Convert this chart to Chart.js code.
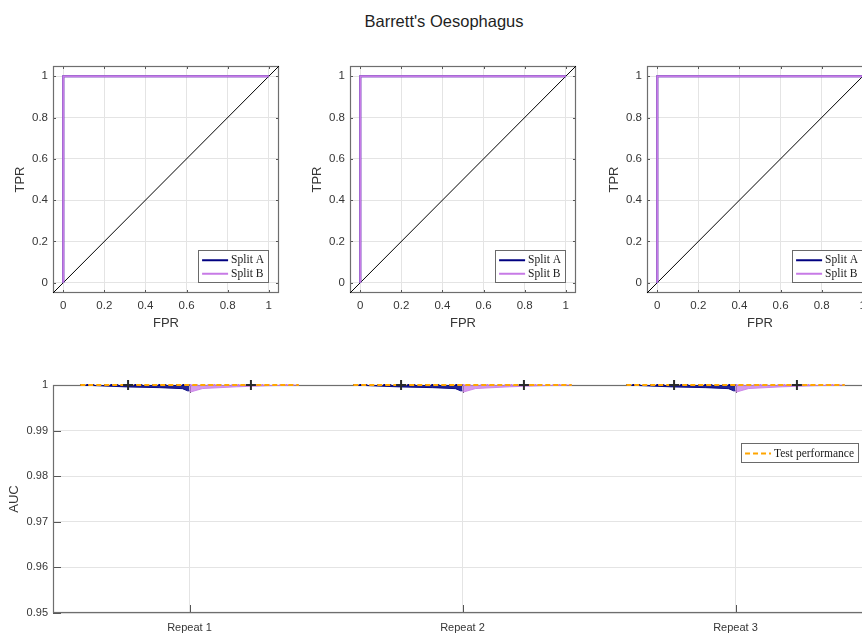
<!DOCTYPE html>
<html><head><meta charset="utf-8">
<script src="https://cdn.jsdelivr.net/npm/chart.js@4.4.1/dist/chart.umd.min.js"></script>
<style>
html,body{margin:0;padding:0;background:#fff;}
#fig{position:relative;width:862px;height:637px;overflow:hidden;background:#fff;}
#fig canvas{position:absolute;}
#title{position:absolute;left:0;top:11px;width:888px;text-align:center;font:16.5px "Liberation Sans",Arial,sans-serif;color:#1f1f1f;line-height:20px;white-space:nowrap;}
</style></head><body>
<div id="fig">
<div id="title">Barrett's Oesophagus</div>
<canvas id="roc1" width="300" height="300" style="left:0px;top:50px"></canvas>
<canvas id="roc2" width="300" height="300" style="left:297px;top:50px"></canvas>
<canvas id="roc3" width="300" height="300" style="left:594px;top:50px"></canvas>
<canvas id="auc" width="900" height="277" style="left:0px;top:360px"></canvas>
</div>
<script>
// ---------------- data ----------------
const splitNames = ['Split A', 'Split B'];
const rocFPR_A = [0, 0, 1];
const rocTPR_A = [0, 1, 1];
const rocFPR_B = [0, 0, 1];
const rocTPR_B = [0, 1, 1];
const chanceFPR = [-0.05, 1.05];
const chanceTPR = [-0.05, 1.05];
const rocTicks = [0, 0.2, 0.4, 0.6, 0.8, 1];
const rocTickLabels = ['0', '0.2', '0.4', '0.6', '0.8', '1'];

const repeats = ['Repeat 1', 'Repeat 2', 'Repeat 3'];
const repeatPos = [1, 2, 3];
const testAUC = [1, 1, 1];
const splitA_meanAUC = [1, 1, 1];
const splitB_meanAUC = [1, 1, 1];
const splitA_medianAUC = [1, 1, 1];
const splitB_medianAUC = [1, 1, 1];
// half-violin outlines (AUC value vs. density half-width)
const violinAUC_A   = [1, 0.9998, 0.99958, 0.99942, 0.9992, 0.99872, 0.99872];
const violinWidth_A = [0.4, 0.32, 0.23, 0.11, 0.026, 0.007, 0];
const violinAUC_B   = [0.9985, 0.9985, 0.99922, 0.9996, 0.99985, 1];
const violinWidth_B = [0, 0.006, 0.048, 0.172, 0.293, 0.4];
const aucTicks = [0.95, 0.96, 0.97, 0.98, 0.99, 1];
const aucTickLabels = ['0.95', '0.96', '0.97', '0.98', '0.99', '1'];

// ---------------- style ----------------
const NAVY = '#000080';
const VIOLET = '#c77ae6';
const ORANGE = '#ffa500';
const SANS = '"Liberation Sans", Arial, Helvetica, sans-serif';
const SERIF = '"Liberation Serif", "Times New Roman", serif';
const TXT = '#363636';
const GRID = '#e4e4e4';
const halfWidth = 0.4;
const markerOffset = 0.225;
const TOPCLIP = {left: 0, right: 0, bottom: 0, top: 6};

function drawFrame(chart, tickLen) {
  const {ctx, chartArea: a, scales} = chart;
  ctx.save();
  ctx.strokeStyle = '#555';
  ctx.lineWidth = 1;
  ctx.beginPath();
  scales.x.ticks.forEach(t => {
    const p = Math.round(scales.x.getPixelForValue(t.value)) + 0.5;
    ctx.moveTo(p, a.bottom); ctx.lineTo(p, a.bottom - tickLen);
    ctx.moveTo(p, a.top); ctx.lineTo(p, a.top + tickLen);
  });
  scales.y.ticks.forEach(t => {
    const p = Math.round(scales.y.getPixelForValue(t.value)) + 0.5;
    ctx.moveTo(a.left, p); ctx.lineTo(a.left + tickLen, p);
    ctx.moveTo(a.right, p); ctx.lineTo(a.right - tickLen, p);
  });
  ctx.stroke();
  ctx.strokeStyle = '#6e6e6e';
  ctx.lineWidth = 1.2;
  ctx.strokeRect(a.left + 0.5, a.top + 0.5, a.right - a.left - 1, a.bottom - a.top - 1);
  ctx.restore();
}

function drawLegend(chart, items, right, top, rowH) {
  const ctx = chart.ctx;
  ctx.save();
  ctx.font = '11.5px ' + SERIF;
  let tw = 0;
  items.forEach(it => { tw = Math.max(tw, ctx.measureText(it.label).width); });
  const w = 33 + tw + 4;
  const h = items.length * rowH + 5;
  const left = right - w;
  ctx.fillStyle = '#fff';
  ctx.fillRect(left, top, w, h);
  ctx.strokeStyle = '#6a6a6a';
  ctx.lineWidth = 1;
  ctx.strokeRect(Math.round(left) + 0.5, Math.round(top) + 0.5, Math.round(w), Math.round(h));
  items.forEach((it, i) => {
    const y = top + 3 + rowH * (i + 0.5) + 0.5;
    ctx.strokeStyle = it.color;
    ctx.lineWidth = 2;
    ctx.setLineDash(it.dash || []);
    ctx.beginPath(); ctx.moveTo(left + 4, y); ctx.lineTo(left + 30, y); ctx.stroke();
    ctx.setLineDash([]);
    ctx.fillStyle = '#1a1a1a';
    ctx.textBaseline = 'middle';
    ctx.textAlign = 'left';
    ctx.fillText(it.label, left + 33, y);
  });
  ctx.restore();
}

function tickFont(size) { return {family: SANS, size: size}; }

function makeROC(id) {
  const pts = (xs, ys) => xs.map((x, i) => ({x: x, y: ys[i]}));
  new Chart(document.getElementById(id), {
    type: 'line',
    data: {
      datasets: [
        {label: splitNames[1], data: pts(rocFPR_B, rocTPR_B), borderColor: VIOLET, borderWidth: 2, pointRadius: 0, tension: 0, fill: false, order: 0},
        {label: splitNames[0], data: pts(rocFPR_A, rocTPR_A), borderColor: NAVY, borderWidth: 2, pointRadius: 0, tension: 0, fill: false, order: 1},
        {label: 'chance', data: pts(chanceFPR, chanceTPR), borderColor: '#000', borderWidth: 1, pointRadius: 0, tension: 0, fill: false, order: 2}
      ]
    },
    options: {
      animation: false, responsive: false, devicePixelRatio: 1, events: [],
      layout: {padding: {top: 16, right: 21, left: 0, bottom: 0}},
      plugins: {legend: {display: false}, tooltip: {enabled: false}},
      scales: {
        x: {
          type: 'linear', min: -0.05, max: 1.05,
          afterBuildTicks: s => { s.ticks = rocTicks.map(v => ({value: v})); },
          afterFit: s => { s.height = 57; },
          ticks: {padding: 6, autoSkip: false, maxRotation: 0, color: TXT, font: tickFont(11.5), callback: (v, i) => rocTickLabels[i]},
          grid: {color: GRID, drawTicks: false},
          border: {display: false},
          title: {display: true, text: 'FPR', color: TXT, font: tickFont(13), padding: {top: 0, bottom: 19}}
        },
        y: {
          type: 'linear', min: -0.05, max: 1.05,
          afterBuildTicks: s => { s.ticks = rocTicks.map(v => ({value: v})); },
          afterFit: s => { s.width = 53; },
          ticks: {padding: 5, autoSkip: false, color: TXT, font: tickFont(11.5), callback: (v, i) => rocTickLabels[i]},
          grid: {color: GRID, drawTicks: false},
          border: {display: false},
          title: {display: true, text: 'TPR', color: TXT, font: tickFont(13), padding: {top: 13, bottom: 0}}
        }
      }
    },
    plugins: [{
      id: 'rocDeco',
      beforeDatasetsDraw(chart) { drawFrame(chart, 3); },
      afterDraw(chart) {
        const a = chart.chartArea;
        drawLegend(chart, [
          {label: splitNames[0], color: NAVY},
          {label: splitNames[1], color: VIOLET}
        ], a.right - 11, a.bottom - 43, 13.5);
      }
    }]
  });
}

makeROC('roc1');
makeROC('roc2');
makeROC('roc3');

// ---------------- AUC panel ----------------
function segs(vals, from, to) {
  const out = [];
  repeatPos.forEach((r, i) => {
    out.push({x: r + from, y: vals[i]});
    out.push({x: r + to, y: vals[i]});
    out.push({x: r + to + 0.01, y: null});
  });
  return out;
}
function violin(aucs, widths, side) {
  const out = [];
  repeatPos.forEach(r => {
    aucs.forEach((v, k) => out.push({x: r + side * widths[k], y: v}));
    out.push({x: r + 0.45, y: null});
  });
  return out;
}
function markers(vals, off) { return repeatPos.map((r, i) => ({x: r + off, y: vals[i]})); }

new Chart(document.getElementById('auc'), {
  type: 'line',
  data: {
    datasets: [
      {label: 'meanA', data: markers(splitA_meanAUC, -markerOffset), showLine: false, pointStyle: 'cross', pointRadius: 5, pointBorderWidth: 2, pointBorderColor: '#2b2b2b', pointBackgroundColor: '#2b2b2b', clip: false, order: 0},
      {label: 'meanB', data: markers(splitB_meanAUC, markerOffset), showLine: false, pointStyle: 'cross', pointRadius: 5, pointBorderWidth: 2, pointBorderColor: '#2b2b2b', pointBackgroundColor: '#2b2b2b', clip: false, order: 0},
      {label: 'Test performance', data: segs(testAUC, -halfWidth, halfWidth), borderColor: ORANGE, borderWidth: 2, borderDash: [5, 3], pointRadius: 0, spanGaps: false, fill: false, tension: 0, clip: TOPCLIP, order: 1},
      {label: 'medA', data: segs(splitA_medianAUC, -halfWidth, 0), borderColor: NAVY, borderWidth: 2, borderDash: [2, 4], pointRadius: 0, spanGaps: false, fill: false, tension: 0, clip: TOPCLIP, order: 2},
      {label: 'medB', data: segs(splitB_medianAUC, 0, halfWidth), borderColor: VIOLET, borderWidth: 2, borderDash: [2, 4], pointRadius: 0, spanGaps: false, fill: false, tension: 0, clip: TOPCLIP, order: 2},
      {label: 'violinB', data: violin(violinAUC_B, violinWidth_B, 1), borderColor: 'rgba(199,122,230,0.85)', borderWidth: 1, backgroundColor: 'rgba(199,122,230,0.75)', pointRadius: 0, spanGaps: false, fill: {value: 1}, tension: 0, clip: TOPCLIP, order: 3},
      {label: 'violinA', data: violin(violinAUC_A, violinWidth_A, -1), borderColor: 'rgba(0,0,128,0.9)', borderWidth: 1, backgroundColor: 'rgba(0,0,128,0.85)', pointRadius: 0, spanGaps: false, fill: {value: 1}, tension: 0, clip: TOPCLIP, order: 3}
    ]
  },
  options: {
    animation: false, responsive: false, devicePixelRatio: 1, events: [],
    layout: {padding: {top: 25, right: 28, left: 0, bottom: 0}},
    plugins: {legend: {display: false}, tooltip: {enabled: false}},
    scales: {
      x: {
        type: 'linear', min: 0.5, max: 3.5,
        afterBuildTicks: s => { s.ticks = repeatPos.map(v => ({value: v})); },
        afterFit: s => { s.height = 24; },
        ticks: {padding: 8, autoSkip: false, maxRotation: 0, color: TXT, font: tickFont(11), callback: (v, i) => repeats[i]},
        grid: {color: GRID, drawTicks: false},
        border: {display: false}
      },
      y: {
        type: 'linear', min: 0.95, max: 1,
        afterBuildTicks: s => { s.ticks = aucTicks.map(v => ({value: v})); },
        afterFit: s => { s.width = 53; },
        ticks: {padding: 5, autoSkip: false, color: TXT, font: tickFont(11), callback: (v, i) => aucTickLabels[i]},
        grid: {color: GRID, drawTicks: false},
        border: {display: false},
        title: {display: true, text: 'AUC', color: TXT, font: tickFont(13), padding: {top: 7, bottom: 0}}
      }
    }
  },
  plugins: [{
    id: 'aucDeco',
    beforeDatasetsDraw(chart) { drawFrame(chart, 8); },
    afterDraw(chart) {
      const a = chart.chartArea;
      drawLegend(chart, [{label: 'Test performance', color: ORANGE, dash: [5, 3]}], a.right - 14, a.top + 58, 14);
    }
  }]
});
</script>
</body></html>
